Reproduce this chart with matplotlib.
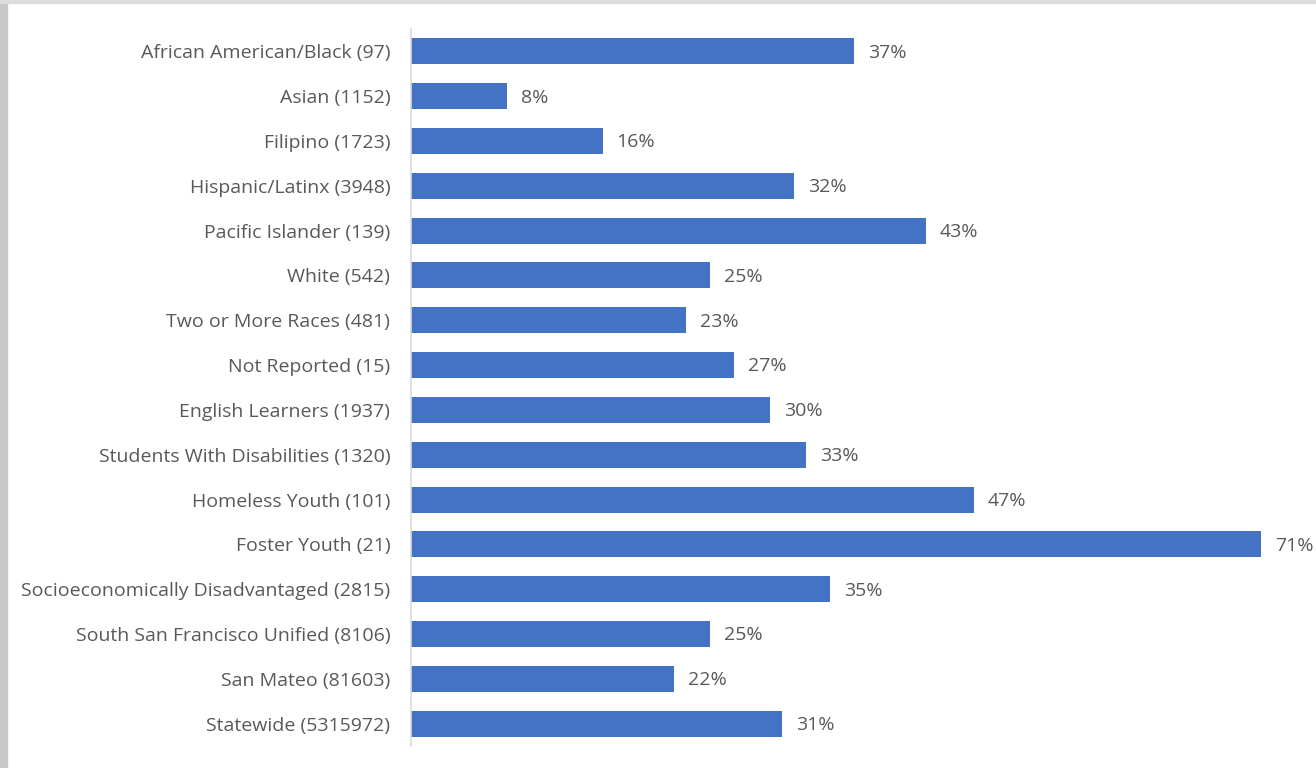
import matplotlib.pyplot as plt
from matplotlib.patches import Rectangle

categories = [
    "African American/Black (97)",
    "Asian (1152)",
    "Filipino (1723)",
    "Hispanic/Latinx (3948)",
    "Pacific Islander (139)",
    "White (542)",
    "Two or More Races (481)",
    "Not Reported (15)",
    "English Learners (1937)",
    "Students With Disabilities (1320)",
    "Homeless Youth (101)",
    "Foster Youth (21)",
    "Socioeconomically Disadvantaged (2815)",
    "South San Francisco Unified (8106)",
    "San Mateo (81603)",
    "Statewide (5315972)",
]
values = [37, 8, 16, 32, 43, 25, 23, 27, 30, 33, 47, 71, 35, 25, 22, 31]

plt.rcParams["font.family"] = ["Open Sans", "DejaVu Sans"]
text_color = "#595959"

fig = plt.figure(figsize=(13.16, 7.68), dpi=100)
# screenshot frame on the left and top edges
fig.patches.append(Rectangle((0, 0), 7 / 1316, 1, transform=fig.transFigure,
                             color="#c8c8c8", zorder=0))
fig.patches.append(Rectangle((0, 1 - 3 / 768), 1, 3 / 768, transform=fig.transFigure,
                             color="#dcdcdc", zorder=0))

ax = fig.add_axes([411 / 1316, 22 / 768, 905 / 1316, 717 / 768])
pos = list(range(len(categories)))
bars = ax.barh(pos, values, height=0.58, color="#4472C4")
for b, v in zip(bars, values):
    ax.annotate(f"{v}%", (b.get_width(), b.get_y() + b.get_height() / 2),
                xytext=(10, -1), textcoords="offset points", va="center",
                ha="left", fontsize=14, color=text_color, annotation_clip=False)

ax.set_xlim(0, 905 / 11.97)
ax.set_ylim(len(categories) - 0.5, -0.5)
ax.set_yticks(pos)
ax.set_yticklabels(categories, fontsize=14, color=text_color)
ax.tick_params(axis="y", length=0, pad=15)
ax.set_xticks([])
for side in ["top", "right", "bottom"]:
    ax.spines[side].set_visible(False)
ax.spines["left"].set_color("#d9d9d9")
ax.spines["left"].set_linewidth(1.2)

fig.savefig("out.png", dpi=100)
